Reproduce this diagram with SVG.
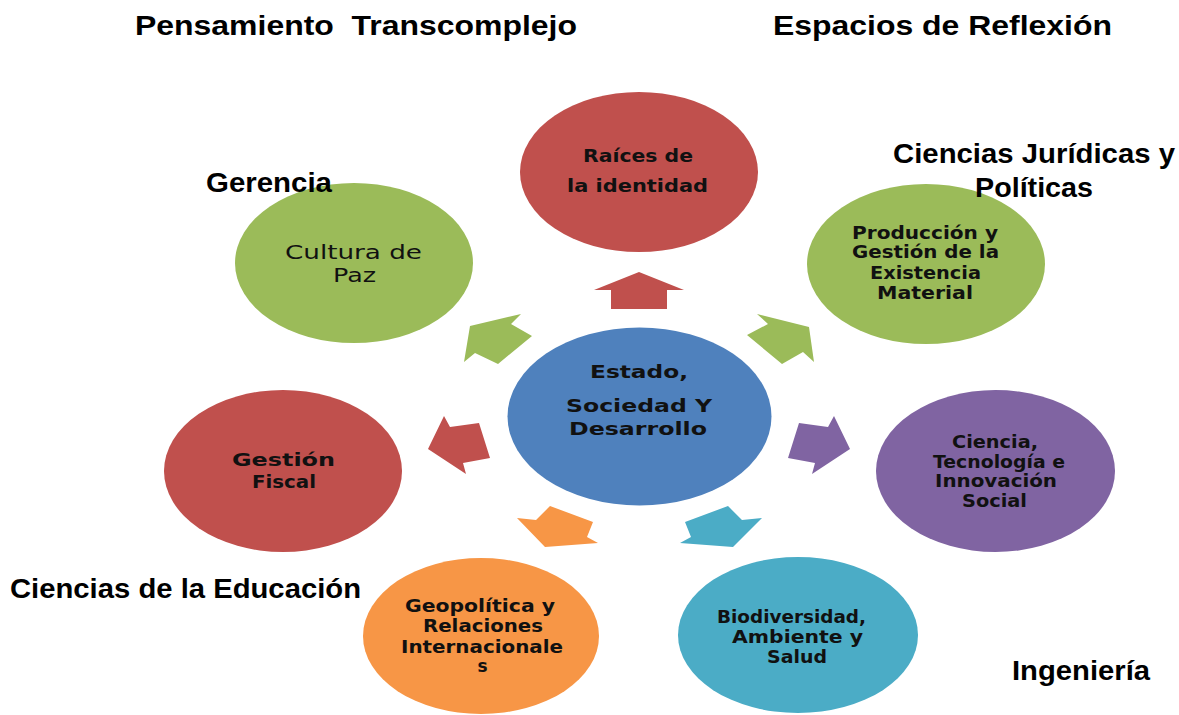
<svg xmlns="http://www.w3.org/2000/svg" width="1179" height="715" viewBox="0 0 1179 715">
<style>
.title{font-family:"Liberation Sans",Arial,sans-serif;font-weight:bold;font-size:28px;fill:#000}
.lbl{font-family:"DejaVu Sans",Verdana,sans-serif;font-weight:bold;font-size:17px;fill:#111;text-anchor:middle}
.lblr{font-family:"DejaVu Sans",Verdana,sans-serif;font-size:20px;fill:#111;text-anchor:middle}
.red{fill:#C0504D}.green{fill:#9BBB59}.blue{fill:#4F81BD}.purple{fill:#8064A2}.orange{fill:#F79646}.cyan{fill:#4BACC6}
</style>
<rect width="1179" height="715" fill="#fff"/>
<g id="connectors">
<polygon class="red" points="639,272 684,290 667,290 667,309 611,309 611,290 594,290"/>
<polygon class="green" points="470,326 521,314 511,324 532,336 498,364 475,353 464,362"/>
<polygon class="green" points="809,327 757,314 768,324 747,335 782,364 803,352 814,362"/>
<polygon class="red" points="428,449 444,416 450,427 479,423 490,458 463,463 466,474"/>
<polygon class="purple" points="850,449 834,416 828,427 799,423 788,458 815,463 812,474"/>
<polygon class="orange" points="550,506 593,522 587,537 598,543 545,547 517,518 536,520"/>
<polygon class="cyan" points="728,506 685,522 691,537 680,543 733,547 762,518 742,520"/>
</g>
<g id="center">
<ellipse class="blue" cx="639.5" cy="416.5" rx="132" ry="89"/>
<text class="lbl" x="639" y="378" font-size="21" textLength="98" lengthAdjust="spacingAndGlyphs">Estado,</text>
<text class="lbl" x="639" y="412" font-size="21" textLength="146" lengthAdjust="spacingAndGlyphs">Sociedad Y</text>
<text class="lbl" x="638" y="435" font-size="21" textLength="138" lengthAdjust="spacingAndGlyphs">Desarrollo</text>
</g>
<g id="raices">
<ellipse class="red" cx="639" cy="172" rx="119" ry="80"/>
<text class="lbl" x="638" y="162" textLength="110" lengthAdjust="spacingAndGlyphs">Raíces de</text>
<text class="lbl" x="637.5" y="192" textLength="141" lengthAdjust="spacingAndGlyphs">la identidad</text>
</g>
<g id="cultura">
<ellipse class="green" cx="354" cy="263" rx="119" ry="80"/>
<text class="lblr" x="353.5" y="259" textLength="137" lengthAdjust="spacingAndGlyphs">Cultura de</text>
<text class="lblr" x="354.5" y="282" textLength="43" lengthAdjust="spacingAndGlyphs">Paz</text>
</g>
<g id="produccion">
<ellipse class="green" cx="926" cy="264" rx="119" ry="80"/>
<text class="lbl" x="925" y="239" textLength="146" lengthAdjust="spacingAndGlyphs">Producción y</text>
<text class="lbl" x="925.5" y="258" textLength="147" lengthAdjust="spacingAndGlyphs">Gestión de la</text>
<text class="lbl" x="925.5" y="279" textLength="111" lengthAdjust="spacingAndGlyphs">Existencia</text>
<text class="lbl" x="925" y="299" textLength="96" lengthAdjust="spacingAndGlyphs">Material</text>
</g>
<g id="fiscal">
<ellipse class="red" cx="283" cy="471" rx="119" ry="81"/>
<text class="lbl" x="283.5" y="466" font-size="20" textLength="103" lengthAdjust="spacingAndGlyphs">Gestión</text>
<text class="lbl" x="284" y="488" font-size="20" textLength="64" lengthAdjust="spacingAndGlyphs">Fiscal</text>
</g>
<g id="ciencia">
<ellipse class="purple" cx="995.5" cy="471" rx="119.5" ry="81"/>
<text class="lbl" x="995" y="448" textLength="86" lengthAdjust="spacingAndGlyphs">Ciencia,</text>
<text class="lbl" x="999" y="468" textLength="132" lengthAdjust="spacingAndGlyphs">Tecnología e</text>
<text class="lbl" x="996" y="487" textLength="122" lengthAdjust="spacingAndGlyphs">Innovación</text>
<text class="lbl" x="994.5" y="507" textLength="65" lengthAdjust="spacingAndGlyphs">Social</text>
</g>
<g id="geopolitica">
<ellipse class="orange" cx="481" cy="636" rx="118" ry="78"/>
<text class="lbl" x="480" y="612" textLength="150" lengthAdjust="spacingAndGlyphs">Geopolítica y</text>
<text class="lbl" x="483" y="632" textLength="120" lengthAdjust="spacingAndGlyphs">Relaciones</text>
<text class="lbl" x="482" y="653" textLength="162" lengthAdjust="spacingAndGlyphs">Internacionale</text>
<text class="lbl" x="482.5" y="672">s</text>
</g>
<g id="biodiversidad">
<ellipse class="cyan" cx="798" cy="635" rx="120" ry="78"/>
<text class="lbl" x="791.5" y="623" textLength="149" lengthAdjust="spacingAndGlyphs">Biodiversidad,</text>
<text class="lbl" x="797.5" y="643" textLength="131" lengthAdjust="spacingAndGlyphs">Ambiente y</text>
<text class="lbl" x="797" y="663" textLength="60" lengthAdjust="spacingAndGlyphs">Salud</text>
</g>
<g id="titles">
<text class="title" x="135" y="35" textLength="442" lengthAdjust="spacingAndGlyphs">Pensamiento&#160; Transcomplejo</text>
<text class="title" x="773" y="35" textLength="339" lengthAdjust="spacingAndGlyphs">Espacios de Reflexión</text>
<text class="title" x="893" y="163" textLength="282" lengthAdjust="spacingAndGlyphs">Ciencias Jurídicas y</text>
<text class="title" x="975" y="197" textLength="118" lengthAdjust="spacingAndGlyphs">Políticas</text>
<text class="title" x="206" y="192" textLength="126" lengthAdjust="spacingAndGlyphs">Gerencia</text>
<text class="title" x="10" y="598" textLength="351" lengthAdjust="spacingAndGlyphs">Ciencias de la Educación</text>
<text class="title" x="1012" y="680" textLength="138" lengthAdjust="spacingAndGlyphs">Ingeniería</text>
</g>
</svg>
